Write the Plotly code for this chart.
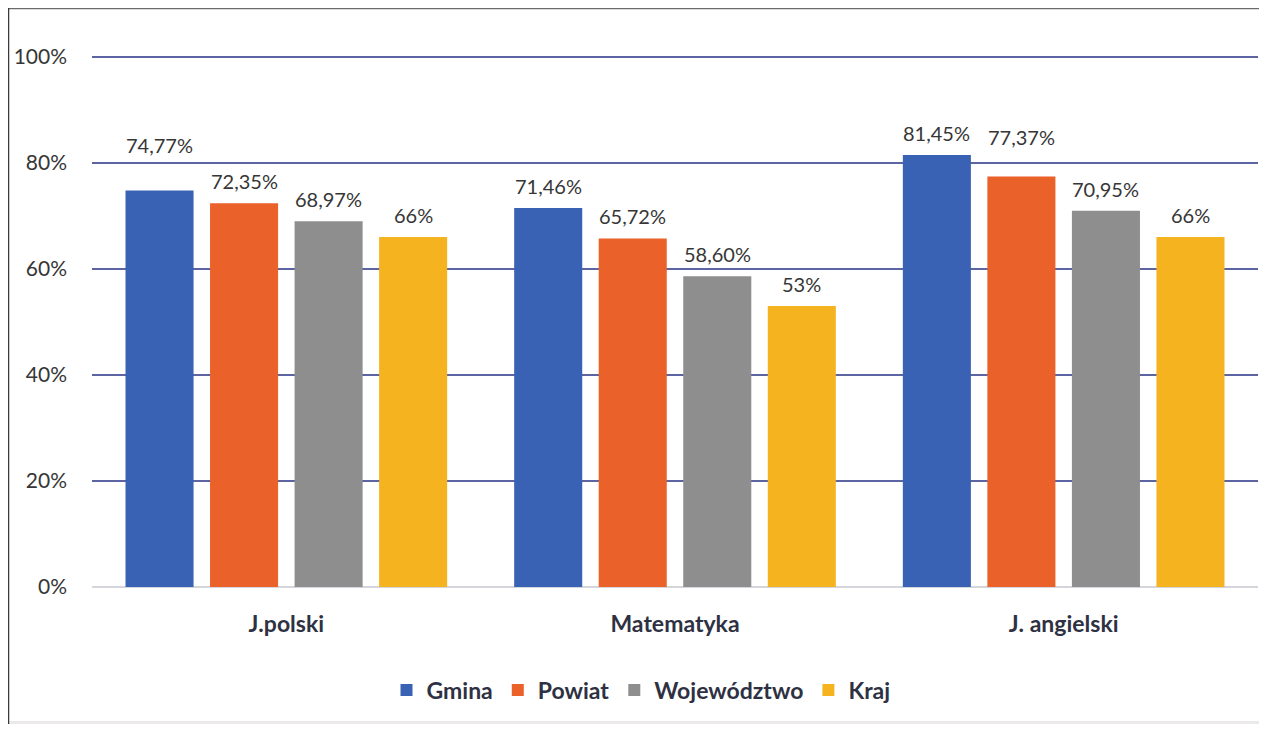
import plotly.graph_objects as go

categories = ["J.polski", "Matematyka", "J. angielski"]
series_names = ["Gmina", "Powiat", "Województwo", "Kraj"]
gmina = [74.77, 71.46, 81.45]
powiat = [72.35, 65.72, 77.37]
wojewodztwo = [68.97, 58.60, 70.95]
kraj = [66, 53, 66]
label_texts = [
    ["74,77%", "71,46%", "81,45%"],
    ["72,35%", "65,72%", "77,37%"],
    ["68,97%", "58,60%", "70,95%"],
    ["66%", "53%", "66%"],
]
y_ticks = [0, 20, 40, 60, 80, 100]
y_tick_labels = ["0%", "20%", "40%", "60%", "80%", "100%"]

# styling
colors = ["#3A62B4", "#EA6129", "#8E8E8E", "#F4B31F"]
label_lift = [[23, 0, 0], [0, 0, 18], [0, 0, 0], [0, 0, 0]]
FONT = "Lato"
BARGAP = 0.13
BARGROUPGAP = 0.195
Y_TOP = 100.3

values = [gmina, powiat, wojewodztwo, kraj]

# the page body adds an 8px margin on each side; size the figure so no scrollbars appear
OFF = 8
W, H = 1267 - 2 * OFF, 732 - 2 * OFF
ML, MT = 92 - OFF, 57 - OFF - 2
PW = 1166
PH = 587 - OFF - MT
MR = W - ML - PW
MB = H - MT - PH

fig = go.Figure()
for name, vals, col in zip(series_names, values, colors):
    fig.add_trace(go.Bar(
        x=categories, y=vals, name=name,
        marker=dict(color=col, line=dict(width=0)),
        hoverinfo="skip",
    ))

# data labels
n = len(series_names)
slot = (1 - BARGAP) / n
annotations = []
for i in range(n):
    for j, cat in enumerate(categories):
        annotations.append(dict(
            x=j + (i - (n - 1) / 2) * slot, y=values[i][j],
            xref="x", yref="y", text=label_texts[i][j], showarrow=False,
            yanchor="bottom", yshift=8 + label_lift[i][j],
            font=dict(family=FONT, size=20, color="#363636"),
        ))

def px_x(p):  # window pixel -> paper
    return (p - OFF - ML) / PW

def px_y(p):
    return (H - MB - (p - OFF)) / PH

shapes = [
    dict(type="line", xref="paper", yref="paper", x0=px_x(8), x1=px_x(W + 8), y0=px_y(8.5), y1=px_y(8.5),
         line=dict(color="#6b6b6b", width=1.5), layer="above"),
    dict(type="line", xref="paper", yref="paper", x0=px_x(8.5), x1=px_x(8.5), y0=px_y(8), y1=px_y(H + 8),
         line=dict(color="#3a3a3a", width=1.5), layer="above"),
    dict(type="rect", xref="paper", yref="paper", x0=px_x(9), x1=px_x(W + 8), y0=px_y(721), y1=px_y(H + 8),
         fillcolor="#ECE9EB", line=dict(width=0), layer="below"),
]

fig.update_layout(
    width=W, height=H,
    margin=dict(l=ML, r=MR, t=MT, b=MB),
    paper_bgcolor="white", plot_bgcolor="white",
    barmode="group", bargap=BARGAP, bargroupgap=BARGROUPGAP,
    font=dict(family=FONT, color="#363636"),
    annotations=annotations,
    shapes=shapes,
    showlegend=True,
    legend=dict(
        orientation="h", x=px_x(641), xanchor="center", y=px_y(690), yanchor="middle",
        font=dict(family=FONT, size=23, color="#2E3142", weight="bold"),
        itemsizing="constant", traceorder="normal", itemclick=False, itemwidth=30,
    ),
    xaxis=dict(
        showgrid=False, showline=False, zeroline=False, ticks="",
        tickfont=dict(family=FONT, size=23, color="#2E3142", weight="bold"),
        ticklabelstandoff=21,
    ),
    yaxis=dict(
        range=[0, Y_TOP], tickvals=y_ticks, ticktext=y_tick_labels,
        showgrid=True, gridcolor="#5C64A2", gridwidth=1.5,
        zeroline=True, zerolinecolor="#D5D5DC", zerolinewidth=1.5,
        showline=False, ticks="",
        tickfont=dict(family=FONT, size=21, color="#363636"),
        ticklabelstandoff=24,
    ),
)

fig.write_html("out.html")
